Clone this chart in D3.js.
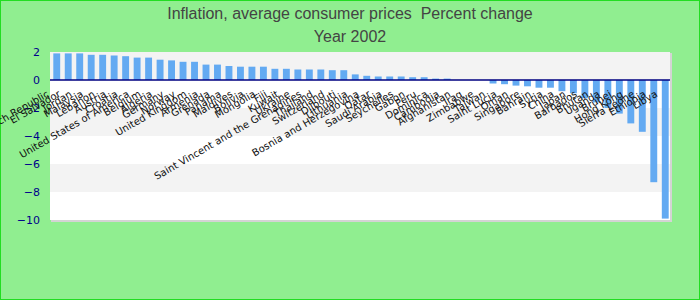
<!DOCTYPE html>
<html>
<head>
<meta charset="utf-8">
<script src="https://cdn.jsdelivr.net/npm/d3@7"></script>
<style>
  html, body { margin: 0; padding: 0; background: #90ee90; }
  svg { display: block; }
</style>
</head>
<body>
<div id="chart"></div>
<script>
// countries, sorted by inflation (percent change, 2002)
var countries = ["Czech Republic", "El Salvador", "Jordan", "Malaysia", "Lebanon", "Austria",
  "Croatia", "United States of America", "Belgium", "Algeria", "Germany", "Norway",
  "United Kingdom", "Armenia", "Grenada", "Panama", "Maldives", "Bolivia", "Mongolia",
  "Fiji", "Kuwait", "Ukraine", "Saint Vincent and the Grenadines", "Thailand", "Switzerland",
  "Djibouti", "Lithuania", "Bosnia and Herzegovina", "Qatar", "Saudi Arabia", "Seychelles",
  "Gabon", "Peru", "Dominica", "Cambodia", "Afghanistan", "Iraq", "Zimbabwe", "Taiwan",
  "Saint Lucia", "Oman", "Singapore", "Bahrain", "Syria", "China", "Japan", "Barbados",
  "Bhutan", "Uganda", "Brunei", "Hong Kong", "Sierra Leone", "Ethiopia", "Libya"];

var inflation = [1.9, 1.9, 1.9, 1.8, 1.8, 1.75,
  1.7, 1.6, 1.6, 1.45, 1.4, 1.3,
  1.3, 1.1, 1.1, 1.0, 0.95, 0.95, 0.95,
  0.8, 0.8, 0.75, 0.75, 0.75, 0.7,
  0.7, 0.4, 0.3, 0.25, 0.25, 0.25,
  0.2, 0.2, 0.1, 0.1, 0.0, 0.0, 0.0, -0.25,
  -0.3, -0.4, -0.45, -0.55, -0.55, -0.8, -0.95, -1.3,
  -1.6, -2.0, -2.4, -3.1, -3.7, -7.3, -9.9];

var yTicks = [2, 0, -2, -4, -6, -8, -10];
var titleLines = ["Inflation, average consumer prices  Percent change", "Year 2002"];

var width = 700, height = 300;
var plot = {left: 50, right: 670, top: 52, bottom: 220};

var svg = d3.select("#chart")
            .append("svg")
            .attr("width", width)
            .attr("height", height);

// background + border
svg.append("rect")
   .attr("x", 0.5).attr("y", 0.5)
   .attr("width", width - 1).attr("height", height - 1)
   .style("fill", "#90ee90")
   .style("stroke", "#22dd22");

// scales
var yScale = d3.scaleLinear()
               .domain([-10, 2])
               .range([plot.bottom, plot.top]);

var xScale = d3.scaleBand()
               .domain(countries)
               .range([plot.left + 1, plot.right + 1])
               .paddingInner(0.4)
               .paddingOuter(0.2);

// plot area shadow
svg.append("rect")
   .attr("x", plot.left + 1).attr("y", plot.top + 1)
   .attr("width", plot.right - plot.left + 1)
   .attr("height", plot.bottom - plot.top + 1)
   .style("fill", "#d4d4d4");

// alternating bands
var bands = d3.pairs(yTicks);
svg.selectAll(".band")
   .data(bands)
   .enter()
   .append("rect")
   .attr("class", "band")
   .attr("x", plot.left)
   .attr("width", plot.right - plot.left)
   .attr("y", function(d) { return yScale(d[0]); })
   .attr("height", function(d) { return yScale(d[1]) - yScale(d[0]); })
   .style("fill", function(d, i) { return i % 2 === 0 ? "#f3f3f3" : "#ffffff"; });

// y axis
var yAxis = svg.append("g")
               .attr("class", "y-axis")
               .attr("transform", "translate(" + plot.left + ",0)")
               .call(d3.axisLeft(yScale).tickValues(yTicks).tickSize(0).tickPadding(10));
yAxis.select(".domain").remove();
yAxis.selectAll("text")
     .style("font-family", "DejaVu Sans, sans-serif")
     .style("font-size", "11px")
     .style("fill", "#00008b");

// bars
svg.selectAll(".bars")
   .data(inflation)
   .enter()
   .append("rect")
   .attr("class", "bars")
   .attr("x", function(d, i) { return xScale(countries[i]); })
   .attr("width", xScale.bandwidth())
   .attr("y", function(d) { return yScale(Math.max(0, d)); })
   .attr("height", function(d) { return Math.abs(yScale(d) - yScale(0)); })
   .style("fill", "#63aaf2");

// zero line
svg.append("line")
   .attr("x1", plot.left).attr("x2", plot.right)
   .attr("y1", yScale(0)).attr("y2", yScale(0))
   .style("stroke", "#000080")
   .style("stroke-width", 1.5);

// category labels
var xAxis = svg.append("g")
               .attr("class", "x-axis")
               .attr("transform", "translate(0," + yScale(0) + ")")
               .call(d3.axisBottom(xScale).tickSize(0));
xAxis.select(".domain").remove();
xAxis.selectAll("text")
     .attr("x", 0)
     .attr("y", 0)
     .attr("dy", 0)
     .attr("transform", "translate(-7,16) rotate(-30)")
     .style("text-anchor", "end")
     .style("font-family", "DejaVu Sans, sans-serif")
     .style("font-size", "10px")
     .style("fill", "#111");

// title
svg.selectAll(".title")
   .data(titleLines)
   .enter()
   .append("text")
   .attr("class", "title")
   .attr("x", width / 2)
   .attr("y", function(d, i) { return 19 + i * 23; })
   .style("text-anchor", "middle")
   .style("white-space", "pre")
   .style("font-family", "Liberation Sans, Arial, sans-serif")
   .style("font-size", "16px")
   .style("fill", "#444")
   .text(function(d) { return d; });
</script>
</body>
</html>
